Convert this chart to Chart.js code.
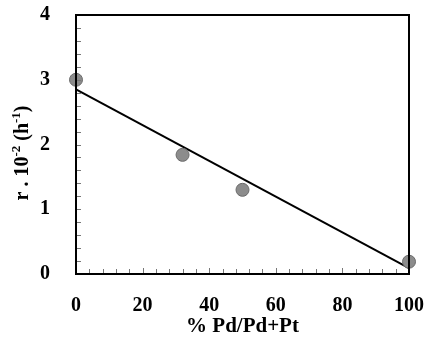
<!DOCTYPE html>
<html>
<head>
<meta charset="utf-8">
<script src="https://cdn.jsdelivr.net/npm/chart.js@4/dist/chart.umd.min.js"></script>
<style>
  html, body { margin: 0; padding: 0; background: #fff; }
  #wrap { width: 436px; height: 344px; position: relative; }
</style>
</head>
<body>
<div id="wrap"><canvas id="cv"></canvas></div>
<script>
// measured points
const pdPct = [0, 32, 50, 100];
const rate = [3.0, 1.84, 1.30, 0.19];
// fitted line end points
const fitX = [0, 100];
const fitY = [2.85, 0.09];
const xTicks = [0, 20, 40, 60, 80, 100];
const yTicks = [0, 1, 2, 3, 4];

const FONT = "'Liberation Serif', 'Times New Roman', serif";

// frame, inward minor ticks and y title with superscripts
const framePlugin = {
  id: 'frame',
  afterDatasetsDraw(chart) {
    const { ctx, chartArea: a, scales } = chart;
    ctx.save();
    // minor ticks
    ctx.strokeStyle = '#777';
    ctx.lineWidth = 1;
    for (let v = 0; v <= 100; v += 4) {
      const x = Math.round(scales.x.getPixelForValue(v)) + 0.5;
      const len = v % 20 === 0 ? 6 : 5;
      ctx.beginPath(); ctx.moveTo(x, a.bottom); ctx.lineTo(x, a.bottom - len); ctx.stroke();
    }
    for (let v = 0; v <= 4.001; v += 0.2) {
      const y = Math.round(scales.y.getPixelForValue(v)) + 0.5;
      ctx.beginPath(); ctx.moveTo(a.left, y); ctx.lineTo(a.left + 5, y); ctx.stroke();
    }
    // frame
    ctx.strokeStyle = '#000';
    ctx.lineWidth = 2;
    ctx.strokeRect(a.left, a.top, a.right - a.left, a.bottom - a.top);
    ctx.restore();
  },
  afterDraw(chart) {
    const { ctx } = chart;
    ctx.save();
    ctx.translate(21, 153);
    ctx.rotate(-Math.PI / 2);
    ctx.fillStyle = '#000';
    ctx.textBaseline = 'alphabetic';
    const parts = [
      ['r . 10', 20, 0], ['-2', 13, -8], [' (h', 20, 0], ['-1', 13, -8], [')', 20, 0]
    ];
    let total = 0;
    parts.forEach(p => { ctx.font = 'bold ' + p[1] + 'px ' + FONT; total += ctx.measureText(p[0]).width; });
    let x = -total / 2;
    parts.forEach(p => {
      ctx.font = 'bold ' + p[1] + 'px ' + FONT;
      ctx.fillText(p[0], x, 7 + p[2]);
      x += ctx.measureText(p[0]).width;
    });
    ctx.restore();
  }
};

new Chart(document.getElementById('cv'), {
  type: 'scatter',
  data: {
    datasets: [
      {
        label: 'fit',
        data: fitX.map((x, i) => ({ x, y: fitY[i] })),
        showLine: true,
        borderColor: '#000',
        borderWidth: 2,
        pointRadius: 0,
        order: 2
      },
      {
        label: 'r',
        data: pdPct.map((x, i) => ({ x, y: rate[i] })),
        backgroundColor: '#8c8c8c',
        borderColor: '#6a6a6a',
        borderWidth: 1,
        pointRadius: 6.5,
        order: 1
      }
    ]
  },
  options: {
    responsive: true,
    maintainAspectRatio: false,
    animation: false,
    clip: false,
    layout: { padding: { top: 15, right: 27, left: 0, bottom: 0 } },
    plugins: { legend: { display: false }, tooltip: { enabled: false } },
    scales: {
      x: {
        type: 'linear', min: 0, max: 100,
        afterBuildTicks: s => { s.ticks = xTicks.map(v => ({ value: v })); },
        afterFit: s => { s.height = 70; s.paddingLeft = 0; s.paddingRight = 0; },
        grid: { display: false },
        border: { display: false },
        ticks: { color: '#000', padding: 12, font: { family: FONT, size: 20, weight: 'bold' }, maxRotation: 0 },
        title: { display: true, text: '% Pd/Pd+Pt', color: '#000', font: { family: FONT, size: 21, weight: 'bold' }, padding: { top: 0, bottom: 5 } }
      },
      y: {
        type: 'linear', min: 0, max: 4,
        afterBuildTicks: s => { s.ticks = yTicks.map(v => ({ value: v })); },
        afterFit: s => { s.width = 76; s.paddingTop = 0; s.paddingBottom = 0; },
        grid: { display: false },
        border: { display: false },
        ticks: { color: '#000', padding: 18, font: { family: FONT, size: 20, weight: 'bold' } }
      }
    }
  },
  plugins: [framePlugin]
});
</script>
</body>
</html>
